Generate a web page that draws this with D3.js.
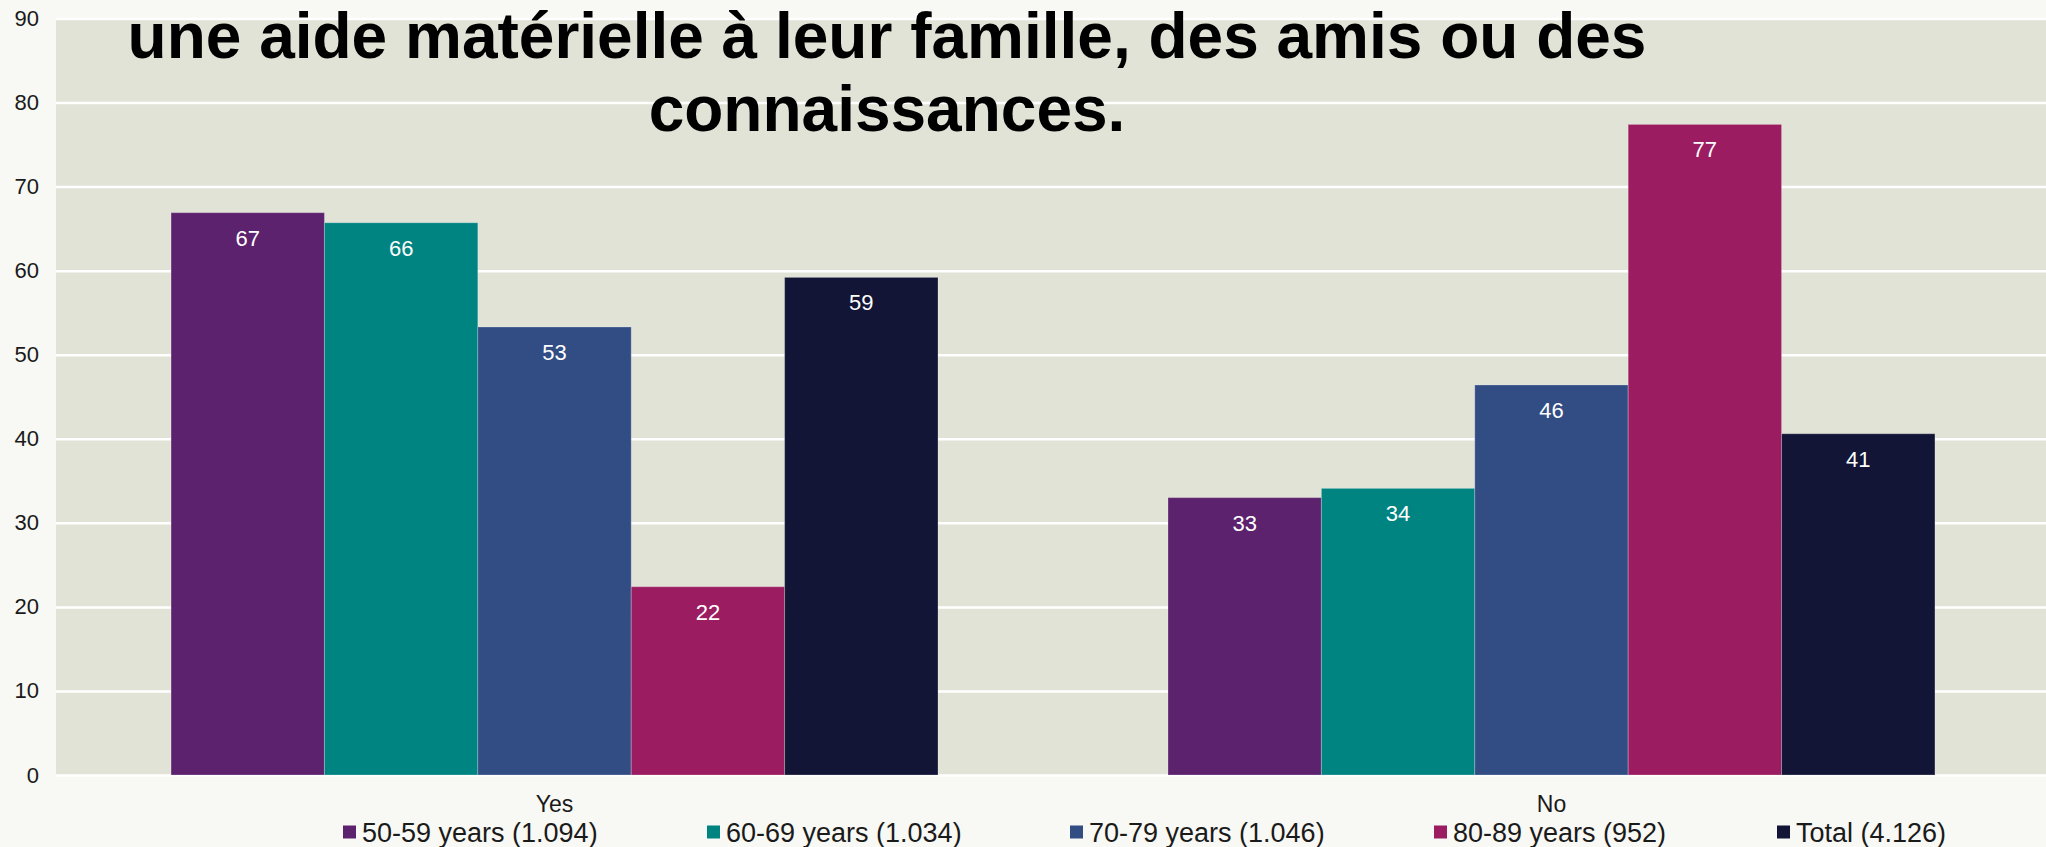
<!DOCTYPE html>
<html>
<head>
<meta charset="utf-8">
<script src="https://cdn.jsdelivr.net/npm/d3@7"></script>
<style>
  html, body { margin: 0; padding: 0; background: #f8f8f4; }
  svg { display: block; font-family: "Liberation Sans", Arial, sans-serif; }
</style>
</head>
<body>
<svg id="chart" width="2046" height="847"></svg>
<script>
// ---- Data ----
const categories = ["Yes", "No"];
const seriesNames = ["50-59 years (1.094)", "60-69 years (1.034)", "70-79 years (1.046)", "80-89 years (952)", "Total (4.126)"];
const yesValues = [66.9, 65.7, 53.3, 22.4, 59.2];
const noValues  = [33.0, 34.1, 46.4, 77.4, 40.6];
const seriesColors = ["#5c226e", "#008482", "#314d84", "#9c1c61", "#121535"];
const yTicks = [0, 10, 20, 30, 40, 50, 60, 70, 80, 90];
const titleLines = ["une aide matérielle à leur famille, des amis ou des", "connaissances."];

const valuesByCategory = { "Yes": yesValues, "No": noValues };

// ---- Layout ----
const W = 2046, H = 847;
const plot = { left: 56, right: 2050, top: 18.5, bottom: 775 };

const svg = d3.select("#chart");

const x0 = d3.scaleBand().domain(categories).range([plot.left, plot.right])
  .paddingInner(0.2307).paddingOuter(0.1154);
const x1 = d3.scaleBand().domain(seriesNames).range([0, x0.bandwidth()]).padding(0);
const y = d3.scaleLinear().domain([0, 90]).range([plot.bottom, plot.top]);

// plot background
svg.append("rect")
  .attr("x", plot.left).attr("y", plot.top)
  .attr("width", plot.right - plot.left).attr("height", plot.bottom - plot.top)
  .attr("fill", "#e1e3d7");

// gridlines
const grid = svg.append("g")
  .attr("transform", `translate(${plot.left},0)`)
  .call(d3.axisLeft(y).tickValues(yTicks).tickSize(-(plot.right - plot.left)).tickFormat(""));
grid.select(".domain").remove();
grid.selectAll(".tick line").attr("stroke", "#ffffff").attr("stroke-width", 2.5);

// y tick labels
const yAxis = svg.append("g")
  .attr("transform", `translate(39,0)`)
  .call(d3.axisLeft(y).tickValues(yTicks).tickSize(0).tickPadding(0));
yAxis.select(".domain").remove();
yAxis.selectAll("text")
  .attr("font-size", 22).attr("fill", "#1a1a1a")
  .attr("font-family", "'Liberation Sans', Arial, sans-serif");

// bars
const groups = svg.append("g").selectAll("g")
  .data(categories).join("g")
  .attr("transform", d => `translate(${x0(d)},0)`);

const barData = c => seriesNames.map((s, i) => ({ series: s, value: valuesByCategory[c][i], color: seriesColors[i] }));

groups.selectAll("rect")
  .data(c => barData(c)).join("rect")
  .attr("x", d => x1(d.series))
  .attr("y", d => y(d.value))
  .attr("width", x1.bandwidth())
  .attr("height", d => y(0) - y(d.value))
  .attr("fill", d => d.color)
  .attr("stroke", "rgba(255,255,255,0.25)")
  .attr("stroke-width", 1);

groups.selectAll("text.val")
  .data(c => barData(c)).join("text")
  .attr("class", "val")
  .attr("x", d => x1(d.series) + x1.bandwidth() / 2)
  .attr("y", d => y(d.value) + 33)
  .attr("text-anchor", "middle")
  .attr("font-size", 22)
  .attr("fill", "#ffffff")
  .text(d => Math.round(d.value));

// category labels
svg.append("g").selectAll("text")
  .data(categories).join("text")
  .attr("x", d => x0(d) + x0.bandwidth() / 2)
  .attr("y", 812)
  .attr("text-anchor", "middle")
  .attr("font-size", 23)
  .attr("fill", "#1a1a1a")
  .text(d => d);

// legend
const legendX = [343, 707, 1070, 1434, 1777];
const legend = svg.append("g").selectAll("g")
  .data(seriesNames).join("g")
  .attr("transform", (d, i) => `translate(${legendX[i]},832)`);
legend.append("rect")
  .attr("x", 0).attr("y", -6.5).attr("width", 13).attr("height", 13)
  .attr("fill", (d, i) => seriesColors[i]);
legend.append("text")
  .attr("x", 19).attr("y", 9.5)
  .attr("font-size", 27)
  .attr("fill", "#1a1a1a")
  .text(d => d);

// title (drawn over the plot)
svg.append("g").selectAll("text")
  .data(titleLines).join("text")
  .attr("x", 887)
  .attr("y", (d, i) => 58 + i * 73)
  .attr("text-anchor", "middle")
  .attr("font-size", 64)
  .attr("font-weight", "bold")
  .attr("fill", "#000000")
  .text(d => d);
</script>
</body>
</html>
